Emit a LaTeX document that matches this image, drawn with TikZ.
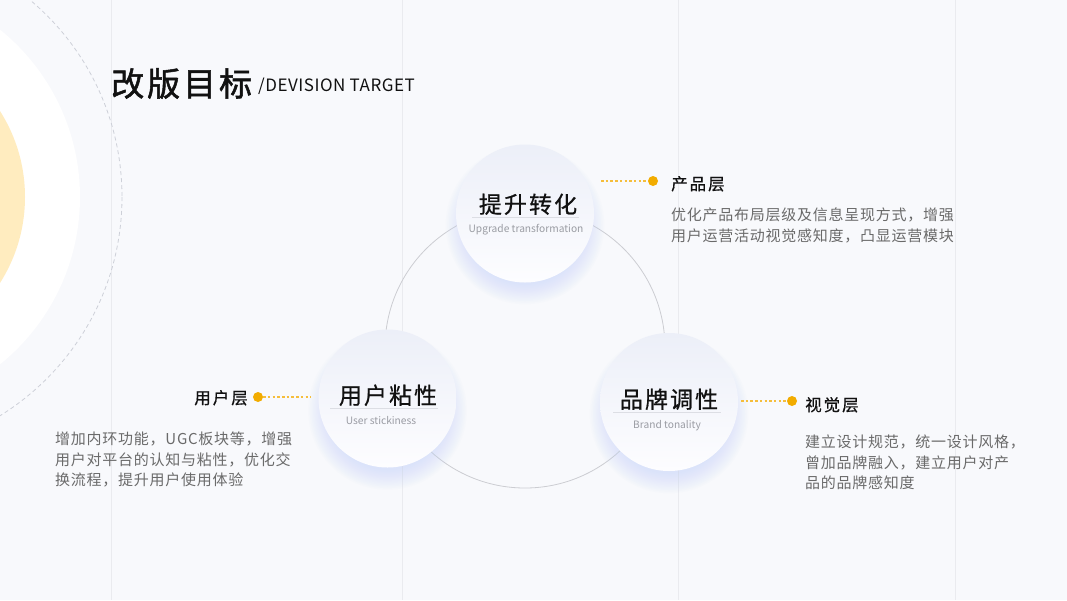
\documentclass[tikz,border=0pt]{standalone}
\usepackage{fontspec}
\setmainfont{Noto Sans CJK SC}
\newfontfamily\cjktitle{Noto Sans CJK SC}[LetterSpace=9,FakeBold=1.6]
\newfontfamily\cjklatin{Noto Sans CJK SC}[LetterSpace=3]
\newfontfamily\cjkmed{Noto Sans CJK SC}[LetterSpace=9,FakeBold=0.7]
\newfontfamily\cjklab{Noto Sans CJK SC}[LetterSpace=12,FakeBold=0.7]
\newfontfamily\cjkdesc{Noto Sans CJK SC}[LetterSpace=5]
\definecolor{bg}{HTML}{F8F9FC}
\definecolor{vline}{HTML}{EAEBEF}
\definecolor{yel}{HTML}{FFECBF}
\definecolor{dashc}{HTML}{CDD0D8}
\definecolor{ringc}{HTML}{CCCDD2}
\definecolor{dotc}{HTML}{F2AC00}
\definecolor{dotl}{HTML}{F5BE3C}
\definecolor{shad}{HTML}{C9D5FA}
\definecolor{ntop}{HTML}{ECEFF8}
\definecolor{nbot}{HTML}{FDFDFF}
\definecolor{uline}{HTML}{DCDEE4}
\definecolor{subc}{HTML}{9A9CA3}
\definecolor{descc}{HTML}{6A6A6A}
\definecolor{labc}{HTML}{111111}
\tikzset{
  goalcircle/.style={circle, inner sep=0pt, minimum size=138pt, top color=ntop, bottom color=nbot, shading angle=0},
  goaltitle/.style={anchor=base, inner sep=0pt, text=labc, font=\cjkmed\fontsize{23}{23}\selectfont},
  goalsub/.style={anchor=base, inner sep=0pt, text=subc, font=\fontsize{10.2}{10.2}\selectfont},
  goalline/.style={draw=uline, line width=0.9pt},
  yeldot/.style={circle, fill=dotc, inner sep=0pt, minimum size=10pt},
  yellink/.style={draw=dotl, line width=1.3pt, dash pattern=on 2.5pt off 2.2pt},
  labtext/.style={inner sep=0pt, text=labc, font=\cjklab\fontsize{16.5}{16.5}\selectfont},
  desctext/.style={anchor=base west, inner sep=0pt, text=descc, font=\cjkdesc\fontsize{15}{15}\selectfont},
  vl/.style={draw=vline, line width=0.8pt}
}
\begin{document}
\begin{tikzpicture}[x=1pt,y=-1pt]
\useasboundingbox (0,0) rectangle (1067,600);
\fill[bg] (0,0) rectangle (1067,600);
% vertical guide lines
\draw[vl] (111,0) -- (111,600);
\draw[vl] (402,0) -- (402,600);
\draw[vl] (678,0) -- (678,600);
\draw[vl] (955,0) -- (955,600);
% left decorative circles
\begin{scope}
\clip (0,0) rectangle (1067,600);
\fill[white] (-135,197) circle (215);
\fill[yel] (-135,197) circle (160);
\draw[dashc, line width=0.8pt, dash pattern=on 4pt off 3pt] (-135,197) circle (257);
\end{scope}
% title
\node[anchor=base west, inner sep=0pt, text=labc, font=\cjktitle\fontsize{33}{33}\selectfont] (title) at (111,96) {改版目标};
\node[anchor=base west, inner sep=0pt, text=labc, font=\cjklatin\fontsize{17}{17}\selectfont] (subtitle) at (258,91) {/DEVISION TARGET};
% ring
\draw[ringc, line width=0.8pt] (525,348) circle (140);
% shadows
\foreach \cx/\cy in {525/213, 387.5/398.5, 669/402}{
  \foreach \k in {0,...,12}{
    \fill[shad, opacity=0.05] (\cx,\cy+12) circle (60+\k*1.6);
  }
}
% goal circles
\node[goalcircle] (top) at (525,213.5) {};
\node[goalcircle] (left) at (387.5,398.5) {};
\node[goalcircle] (right) at (669,402) {};
% top node text
\node[goaltitle] (toptitle) at (528,213) {提升转化};
\draw[goalline] (472,217) -- (579,217);
\node[goalsub] (topsub) at (526,232.5) {Upgrade transformation};
% left node text
\node[goaltitle] (lefttitle) at (388,404) {用户粘性};
\draw[goalline] (330,408.5) -- (438,408.5);
\node[goalsub] (leftsub) at (381,424.5) {User stickiness};
% right node text
\node[goaltitle] (righttitle) at (669,408) {品牌调性};
\draw[goalline] (613,412) -- (721,412);
\node[goalsub] (rightsub) at (667,428.5) {Brand tonality};
% connectors
\node[yeldot] (dtop) at (653,181) {};
\coordinate (ctop) at (601,181);
\draw[yellink] (ctop) -- (dtop);
\node[yeldot] (dleft) at (258,397) {};
\coordinate (cleft) at (311,397);
\draw[yellink] (dleft) -- (cleft);
\node[yeldot] (dright) at (792,401) {};
\coordinate (cright) at (741,401);
\draw[yellink] (cright) -- (dright);
% labels
\node[labtext, anchor=base west] (ltop) at (671,190) {产品层};
\node[labtext, anchor=base east] (lleft) at (248,404) {用户层};
\node[labtext, anchor=base west] (lright) at (805,411) {视觉层};
% descriptions
\node[desctext] (dt1) at (671,220) {优化产品布局层级及信息呈现方式，增强};
\node[desctext] (dt2) at (671,241) {用户运营活动视觉感知度，凸显运营模块};
\node[desctext] (dl1) at (55,444) {增加内环功能，UGC板块等，增强};
\node[desctext] (dl2) at (55,465) {用户对平台的认知与粘性，优化交};
\node[desctext] (dl3) at (55,485) {换流程，提升用户使用体验};
\node[desctext] (dr1) at (805,447) {建立设计规范，统一设计风格，};
\node[desctext] (dr2) at (805,468) {曾加品牌融入，建立用户对产};
\node[desctext] (dr3) at (805,488) {品的品牌感知度};
\end{tikzpicture}
\end{document}
